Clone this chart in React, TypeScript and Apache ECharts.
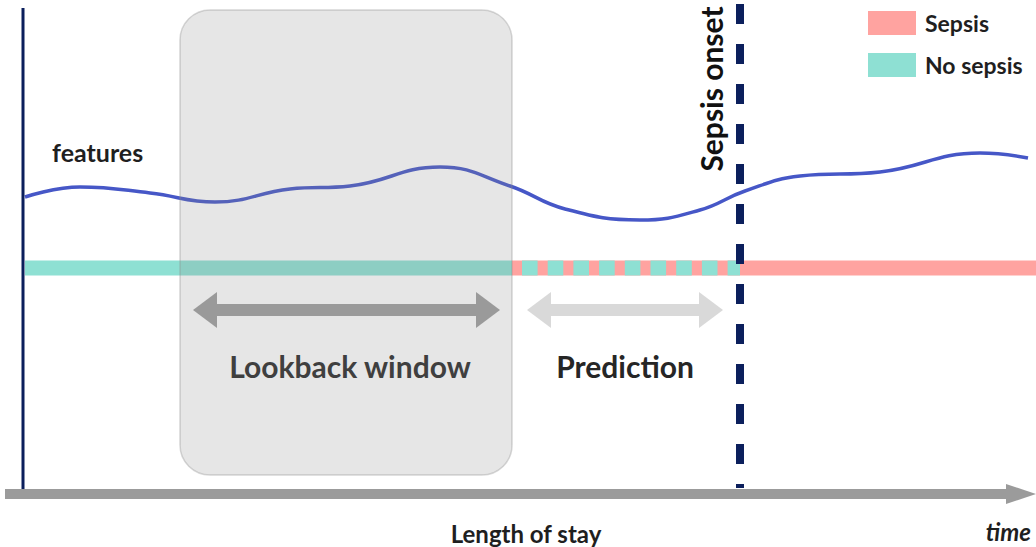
import React, { useEffect, useRef } from "react";
import * as echarts from "echarts";

// time (x) and vertical position (y) in the diagram's own units
const featureTimes = [25, 80, 150, 215, 290, 350, 440, 510, 565, 640, 700, 745, 800, 880, 980, 1028];
const featureValues = [197, 187, 193, 202, 189, 186, 167, 186, 209, 220, 210, 191, 176, 172, 153, 158];
const labelLevel = 268;
const noSepsisSpan = [25, 512];
const stripedSpan = [522, 740];
const sepsisSpan = [512, 1036];
const stayStart = 23;
const sepsisOnset = 740;
const lookbackWindow = [180, 512];
const lookbackArrow = [193, 500];
const predictionArrow = [527, 723];
const timeAxis = [5, 1036];
const legendNames = ["Sepsis", "No sepsis"];

const FONT = "Lato, 'Open Sans', sans-serif";
const NAVY = "#0b1f5c";
const PINK = "#ffa3a0";
const TEAL = "#8ee0d3";

export default function App() {
  const ref = useRef<HTMLDivElement>(null);
  useEffect(() => {
    const chart = echarts.init(ref.current!, null, { renderer: "svg" });
    const seg = (a: number, b: number, y: number) => [[a, y], [b, y]];
    const option: any = {
      animation: false,
      grid: { left: 0, right: 0, top: 0, bottom: 0 },
      xAxis: { type: "value", min: 0, max: 1036, show: false },
      yAxis: { type: "value", min: 0, max: 547, inverse: true, show: false },
      legend: {
        orient: "vertical",
        left: 868,
        top: 11,
        padding: 0,
        itemWidth: 48,
        itemHeight: 24,
        itemGap: 18,
        icon: "rect",
        data: legendNames,
        selectedMode: false,
        textStyle: { fontFamily: FONT, fontWeight: "bold", fontSize: 23, color: "#1f1f1f", padding: [0, 0, 0, 4] },
      },
      series: [
        {
          name: "Sepsis",
          type: "line",
          data: seg(sepsisSpan[0], sepsisSpan[1], labelLevel),
          symbol: "none",
          color: PINK,
          lineStyle: { width: 15, color: PINK, cap: "butt" },
          z: 2,
          silent: true,
        },
        {
          name: "No sepsis",
          type: "line",
          data: seg(noSepsisSpan[0], noSepsisSpan[1], labelLevel),
          symbol: "none",
          color: TEAL,
          lineStyle: { width: 15, color: TEAL, cap: "butt" },
          z: 2,
          silent: true,
        },
        {
          name: "No sepsis",
          type: "line",
          data: seg(stripedSpan[0], stripedSpan[1], labelLevel),
          symbol: "none",
          color: TEAL,
          lineStyle: { width: 15, color: TEAL, cap: "butt", type: [15.6, 10.1] },
          z: 2,
          silent: true,
        },
        {
          name: "features",
          type: "line",
          data: featureTimes.map((t, i) => [t, featureValues[i]]),
          smooth: 0.45,
          symbol: "none",
          lineStyle: { width: 3.5, color: "#4657c7" },
          z: 2,
          silent: true,
        },
        {
          name: "stay",
          type: "line",
          data: [[stayStart, 8], [stayStart, 490]],
          symbol: "none",
          lineStyle: { width: 3, color: NAVY },
          z: 2,
          silent: true,
        },
        {
          name: "onset",
          type: "line",
          data: [[sepsisOnset, 4], [sepsisOnset, 488]],
          symbol: "none",
          lineStyle: { width: 8, color: NAVY, type: [20, 20], cap: "butt" },
          z: 2,
          silent: true,
        },
        {
          name: "arrows",
          type: "line",
          data: [],
          z: 5,
          silent: true,
          markLine: {
            silent: true,
            animation: false,
            label: { show: false },
            emphasis: { disabled: true },
            data: [
              [
                { coord: [timeAxis[0], 494], symbol: "none", lineStyle: { color: "#9b9b9b", width: 10, type: "solid" } },
                { coord: [timeAxis[1] - 15, 494], symbol: "triangle", symbolSize: [20, 30] },
              ],
              [
                { coord: [lookbackArrow[0] + 12, 310], symbol: "triangle", symbolSize: [36, 24], lineStyle: { color: "#9a9a9a", width: 12, type: "solid" } },
                { coord: [lookbackArrow[1] - 12, 310], symbol: "triangle", symbolSize: [36, 24] },
              ],
              [
                { coord: [predictionArrow[0] + 12, 310], symbol: "triangle", symbolSize: [36, 24], lineStyle: { color: "#d9d9d9", width: 12, type: "solid" } },
                { coord: [predictionArrow[1] - 12, 310], symbol: "triangle", symbolSize: [36, 24] },
              ],
            ],
          },
        },
      ],
    };
    chart.setOption(option);
    const p0 = chart.convertToPixel({ gridIndex: 0 }, [lookbackWindow[0], 10]) as number[];
    const p1 = chart.convertToPixel({ gridIndex: 0 }, [lookbackWindow[1], 475]) as number[];
    chart.setOption({
      graphic: [
        {
          type: "rect",
          z: 3,
          silent: true,
          shape: { x: p0[0], y: p0[1], width: p1[0] - p0[0], height: p1[1] - p0[1], r: 30 },
          style: { fill: "rgba(142,142,142,0.22)", stroke: "rgba(140,140,140,0.35)", lineWidth: 1.5 },
        },
        {
          type: "text", z: 10, x: 52, y: 152,
          style: { text: "features", font: `bold 25px ${FONT}`, fill: "#1f1f1f", verticalAlign: "middle" },
        },
        {
          type: "text", z: 10, x: 711, y: 89, rotation: Math.PI / 2,
          style: { text: "Sepsis onset", font: `bold 30px ${FONT}`, fill: "#111", align: "center", verticalAlign: "middle" },
        },
        {
          type: "text", z: 10, x: 350, y: 366,
          style: { text: "Lookback window", font: `bold 30px ${FONT}`, fill: "#3f3f3f", align: "center", verticalAlign: "middle" },
        },
        {
          type: "text", z: 10, x: 625, y: 366,
          style: { text: "Prediction", font: `bold 30px ${FONT}`, fill: "#262626", align: "center", verticalAlign: "middle" },
        },
        {
          type: "text", z: 10, x: 526, y: 533,
          style: { text: "Length of stay", font: `bold 24px ${FONT}`, fill: "#1f1f1f", align: "center", verticalAlign: "middle" },
        },
        {
          type: "text", z: 10, x: 1031, y: 531,
          style: { text: "time", font: `italic bold 24px ${FONT}`, fill: "#1f1f1f", align: "right", verticalAlign: "middle" },
        },
      ],
    });
    return () => chart.dispose();
  }, []);
  return (
    <div
      ref={ref}
      style={{ position: "fixed", left: 0, top: 0, width: 1036, height: 547, background: "#fff" }}
    />
  );
}
